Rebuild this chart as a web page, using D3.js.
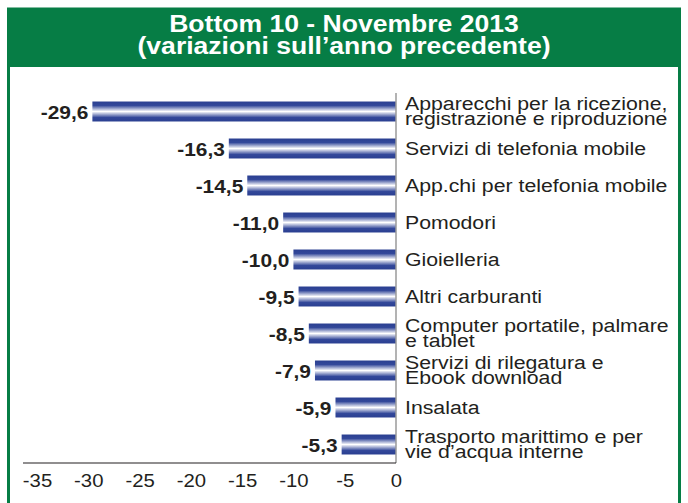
<!DOCTYPE html>
<html>
<head>
<meta charset="utf-8">
<script src="https://cdn.jsdelivr.net/npm/d3@7"></script>
<style>
  body { margin: 0; background: #fff; }
  svg text { font-family: "Liberation Sans", Arial, sans-serif; }
</style>
</head>
<body>
<div id="chart"></div>
<script>
// data
var categories = [
  ["Apparecchi per la ricezione,", "registrazione e riproduzione"],
  ["Servizi di telefonia mobile"],
  ["App.chi per telefonia mobile"],
  ["Pomodori"],
  ["Gioielleria"],
  ["Altri carburanti"],
  ["Computer portatile, palmare", "e tablet"],
  ["Servizi di rilegatura e", "Ebook download"],
  ["Insalata"],
  ["Trasporto marittimo e per", "vie d\u2019acqua interne"]
];
var values = [-29.6, -16.3, -14.5, -11.0, -10.0, -9.5, -8.5, -7.9, -5.9, -5.3];
var tickValues = [-35, -30, -25, -20, -15, -10, -5, 0];
var titleLines = ["Bottom 10 - Novembre 2013", "(variazioni sull\u2019anno precedente)"];

var W = 688, H = 503;
var green = "#067d45";
var ink = "#231f20";

// helper: comma decimal, plain hyphen
function fmt(d){ return d3.format(".1f")(d).replace("\u2212", "-").replace(".", ","); }

var svg = d3.select("#chart").append("svg")
    .attr("width", W)
    .attr("height", H);

// frame + title band
svg.append("rect")
    .attr("x", 8.5).attr("y", 9)
    .attr("width", 671).attr("height", H)
    .attr("fill", "#fff")
    .attr("stroke", green)
    .attr("stroke-width", 3);

svg.append("rect")
    .attr("x", 7).attr("y", 9)
    .attr("width", 674).attr("height", 58)
    .attr("fill", green);

svg.selectAll(".title")
    .data(titleLines)
    .enter().append("text")
    .attr("class", "title")
    .attr("transform", function(d, i){ return "translate(344," + (32 + i * 22) + ") scale(1.13,1)"; })
    .attr("text-anchor", "middle")
    .attr("fill", "#fff")
    .attr("font-weight", "bold")
    .attr("font-size", "23.5px")
    .text(function(d){ return d; });

// gradient for the bars
var defs = svg.append("defs");
var grad = defs.append("linearGradient")
    .attr("id", "barGrad")
    .attr("x1", 0).attr("y1", 0)
    .attr("x2", 0).attr("y2", 1);
grad.append("stop").attr("offset", "0%").attr("stop-color", "#2a3f91");
grad.append("stop").attr("offset", "20%").attr("stop-color", "#33489a");
grad.append("stop").attr("offset", "50%").attr("stop-color", "#ffffff");
grad.append("stop").attr("offset", "80%").attr("stop-color", "#33489a");
grad.append("stop").attr("offset", "100%").attr("stop-color", "#2a3f91");

// scales
var x = d3.scaleLinear().domain([-35, 0]).range([37, 396]);
var y = d3.scaleBand()
    .domain(d3.range(values.length))
    .range([93, 463])
    .paddingInner(0.46)
    .paddingOuter(0.23);

function cy(i){ return y(i) + y.bandwidth() / 2; }

// bars
svg.selectAll(".bar")
    .data(values)
    .enter().append("rect")
    .attr("class", "bar")
    .attr("x", function(d){ return x(d); })
    .attr("y", function(d, i){ return y(i); })
    .attr("width", function(d){ return x(0) - x(d); })
    .attr("height", y.bandwidth())
    .attr("fill", "url(#barGrad)");

// value labels
svg.selectAll(".val")
    .data(values)
    .enter().append("text")
    .attr("class", "val")
    .attr("transform", function(d, i){
        return "translate(" + (x(d) - 4) + "," + (cy(i) + 7) + ") scale(1.1,1)";
    })
    .attr("text-anchor", "end")
    .attr("font-weight", "bold")
    .attr("font-size", "19px")
    .attr("fill", ink)
    .text(fmt);

// category labels
var cat = svg.selectAll(".cat")
    .data(categories)
    .enter().append("text")
    .attr("class", "cat")
    .attr("font-size", "19px")
    .attr("fill", ink)
    .attr("transform", function(d, i){
        var b = d.length > 1 ? cy(i) - 1.5 : cy(i) + 6.5;
        return "translate(405," + b + ") scale(1.12,1)";
    });
cat.selectAll("tspan")
    .data(function(d){ return d; })
    .enter().append("tspan")
    .attr("x", 0)
    .attr("dy", function(d, i){ return i === 0 ? 0 : 14.5; })
    .text(function(d){ return d; });

// zero line
svg.append("line")
    .attr("x1", x(0)).attr("x2", x(0))
    .attr("y1", 93).attr("y2", 463)
    .attr("stroke", "#9a9a9a")
    .attr("stroke-width", 1.5);

// x axis
var xAxis = d3.axisBottom(x)
    .tickValues(tickValues)
    .tickSize(0)
    .tickPadding(11)
    .tickFormat(function(d){ return String(d); });

var gx = svg.append("g")
    .attr("transform", "translate(0,463)")
    .call(xAxis);
gx.select(".domain").remove();
gx.selectAll("text")
    .attr("font-size", "19px")
    .attr("fill", ink)
    .attr("transform", "scale(1.07,1)")
    .style("font-family", "'Liberation Sans', Arial, sans-serif");

svg.append("line")
    .attr("x1", 23).attr("x2", x(0))
    .attr("y1", 463).attr("y2", 463)
    .attr("stroke", ink)
    .attr("stroke-width", 1.2);
</script>
</body>
</html>
